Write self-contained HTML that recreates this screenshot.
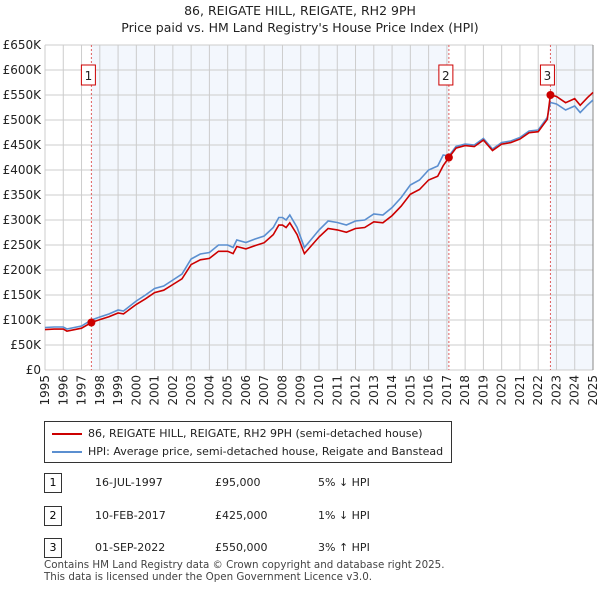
<!DOCTYPE html>
<html><head><meta charset="utf-8"><style>
body{margin:0;background:#fff;font-family:"DejaVu Sans","Liberation Sans",sans-serif;}
#wrap{position:relative;width:600px;height:590px;overflow:hidden}
.t{position:absolute;font-size:12px;color:#222}
</style></head><body><div id="wrap">
<div class="t" style="left:0;width:600px;text-align:center;top:3px;font-size:12.5px">86, REIGATE HILL, REIGATE, RH2 9PH</div>
<div class="t" style="left:0;width:600px;text-align:center;top:20px;font-size:12.5px">Price paid vs. HM Land Registry's House Price Index (HPI)</div>
<svg id="ch" width="600" height="410" style="position:absolute;left:0;top:0"></svg>
<div style="position:absolute;left:44px;top:421px;width:406px;height:40px;border:1px solid #333;"></div>
<svg width="600" height="60" style="position:absolute;left:0;top:420px"><line x1="52" y1="14" x2="82" y2="14" stroke="#cc0000" stroke-width="2"/><line x1="52" y1="32" x2="82" y2="32" stroke="#5b8fd0" stroke-width="2"/></svg>
<div class="t" style="left:88px;top:427px;font-size:11px">86, REIGATE HILL, REIGATE, RH2 9PH (semi-detached house)</div>
<div class="t" style="left:88px;top:445px;font-size:11px">HPI: Average price, semi-detached house, Reigate and Banstead</div>
<div id="tbl"></div>
<div class="t" style="left:44px;top:559px;font-size:10.3px;color:#444">Contains HM Land Registry data © Crown copyright and database right 2025.</div>
<div class="t" style="left:44px;top:571px;font-size:10.3px;color:#444">This data is licensed under the Open Government Licence v3.0.</div>
</div>
<script>
const hpiYears=[1995,1995.5,1996,1996.2,1997,1997.54,1998,1998.5,1999,1999.3,2000,2000.5,2001,2001.5,2002,2002.5,2003,2003.5,2004,2004.5,2005,2005.3,2005.5,2006,2006.5,2007,2007.5,2007.8,2008,2008.2,2008.4,2008.8,2009.2,2009.5,2010,2010.5,2011,2011.5,2012,2012.5,2013,2013.5,2014,2014.5,2015,2015.5,2016,2016.5,2016.8,2017.11,2017.5,2018,2018.5,2019,2019.5,2020,2020.5,2021,2021.5,2022,2022.5,2022.67,2023,2023.5,2024,2024.3,2024.7,2025];
const hpiValues=[85,86,86,82,88,100,106,112,120,118,138,150,163,168,180,192,222,232,235,250,250,245,260,255,262,268,285,305,305,300,310,285,245,258,280,298,295,290,298,300,312,310,325,345,370,380,400,408,430,428,447,452,450,463,442,455,458,465,478,480,505,535,532,520,528,515,530,540];
const saleDates=[1997.54,2017.11,2022.67];
const salePrices=[95,425,550];
const saleLabels=["16-JUL-1997","10-FEB-2017","01-SEP-2022"];
const salePriceText=["£95,000","£425,000","£550,000"];
const saleHpiText=["5% ↓ HPI","1% ↓ HPI","3% ↑ HPI"];
const yTicks=[0,50,100,150,200,250,300,350,400,450,500,550,600,650];
const xTicks=[1995,1996,1997,1998,1999,2000,2001,2002,2003,2004,2005,2006,2007,2008,2009,2010,2011,2012,2013,2014,2015,2016,2017,2018,2019,2020,2021,2022,2023,2024,2025];
const X0=45,X1=593,Y0=370,Y1=45;
const xs=y=>X0+(y-1995)/30*(X1-X0);
const ys=v=>Y0-v/650*(Y0-Y1);
const NS="http://www.w3.org/2000/svg",svg=document.getElementById('ch');
function mk(t,a,p){const e=document.createElementNS(NS,t);for(const k in a)e.setAttribute(k,a[k]);(p||svg).appendChild(e);return e;}
function hpiAt(t){for(let i=1;i<hpiYears.length;i++)if(t<=hpiYears[i]){const f=(t-hpiYears[i-1])/(hpiYears[i]-hpiYears[i-1]);return hpiValues[i-1]+f*(hpiValues[i]-hpiValues[i-1]);}return hpiValues[hpiValues.length-1];}
const sh1=mk('rect',{x:xs(saleDates[0]),y:Y1,width:xs(saleDates[1])-xs(saleDates[0]),height:Y0-Y1,fill:'#eef3fc',opacity:0.7});

const sh3=mk('rect',{x:xs(saleDates[2]),y:Y1,width:X1-xs(saleDates[2]),height:Y0-Y1,fill:'#eef3fc',opacity:0.7});

yTicks.forEach(v=>{const l=mk('line',{x1:X0,x2:X1,y1:ys(v),y2:ys(v),stroke:'#ccc'});
const t=mk('text',{x:X0-4,y:ys(v)+4,'text-anchor':'end','font-size':12,fill:'#222'});t.textContent=v==0?'£0':'£'+v+'K';});
xTicks.forEach(y=>{const l=mk('line',{x1:xs(y),x2:xs(y),y1:Y1,y2:Y0,stroke:'#ccc'});
const t=mk('text',{x:0,y:0,'text-anchor':'end','font-size':12,fill:'#222',transform:`translate(${xs(y)+4},${Y0+5}) rotate(-90)`});t.textContent=y;});
mk('line',{x1:X1,x2:X1,y1:Y1,y2:Y0,stroke:'#888'});
saleDates.forEach((d,i)=>{const l=mk('line',{x1:xs(d),x2:xs(d),y1:Y1,y2:Y0,stroke:'#e06060','stroke-dasharray':'2,2'});
const r=mk('rect',{x:xs(d)-10,y:65,width:14,height:20,fill:'#fff',stroke:'#c00'});
const t=mk('text',{x:xs(d)-3,y:80,'text-anchor':'middle','font-size':12,fill:'#222'});t.textContent=i+1;});
let p='';hpiYears.forEach((y,i)=>p+=(i?'L':'M')+xs(y).toFixed(1)+','+ys(hpiValues[i]).toFixed(1));
const hl=mk('path',{d:p,fill:'none',stroke:'#5b8fd0','stroke-width':1.6});
const ratios=saleDates.map((d,i)=>salePrices[i]/hpiAt(d));
let q='';hpiYears.forEach((y,i)=>{let s=0;for(let k=0;k<saleDates.length;k++)if(y>=saleDates[k]-0.001)s=k;q+=(i?'L':'M')+xs(y).toFixed(1)+','+ys(hpiValues[i]*ratios[s]).toFixed(1);});
const pl=mk('path',{d:q,fill:'none',stroke:'#cc0000','stroke-width':1.6});
saleDates.forEach((d,i)=>{const c=mk('circle',{cx:xs(d),cy:ys(salePrices[i]),r:4,fill:'#cc0000'});});
const tb=document.getElementById('tbl');const rowY=[473,506,538];
saleDates.forEach((d,i)=>{const cells=[[45,String(i+1)],[95,saleLabels[i]],[215,salePriceText[i]],[318,saleHpiText[i]]];
const b=document.createElement('div');b.style.cssText=`position:absolute;left:44px;top:${rowY[i]}px;width:16px;height:18px;border:1px solid #333;text-align:center;font-size:11px;line-height:18px`;b.textContent=i+1;
tb.appendChild(b);
cells.slice(1).forEach(c=>{const e=document.createElement('div');e.className='t';e.style.cssText=`left:${c[0]}px;top:${rowY[i]+3}px;font-size:11px`;e.textContent=c[1];
tb.appendChild(e);});});
</script></body></html>
